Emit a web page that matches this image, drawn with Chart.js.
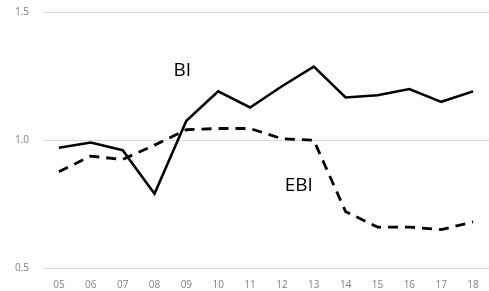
<!DOCTYPE html>
<html>
<head>
<meta charset="utf-8">
<script src="https://cdn.jsdelivr.net/npm/chart.js@4"></script>
<style>
  html, body { margin: 0; padding: 0; background: #fff; }
  #wrap { width: 489px; height: 291px; position: relative; }
</style>
</head>
<body>
<div id="wrap"><canvas id="chart"></canvas></div>
<script>
  // Data
  const years = ['05', '06', '07', '08', '09', '10', '11', '12', '13', '14', '15', '16', '17', '18'];
  const biValues = [0.97, 0.99, 0.96, 0.79, 1.075, 1.19, 1.127, 1.21, 1.287, 1.166, 1.175, 1.199, 1.149, 1.19];
  const ebiValues = [0.876, 0.937, 0.924, 0.98, 1.04, 1.045, 1.045, 1.005, 0.999, 0.72, 0.66, 0.66, 0.65, 0.68];
  const yTicks = [0.5, 1.0, 1.5];

  // Series name labels, placed in data space
  const seriesLabels = [
    { text: 'BI', x: 3.875, y: 1.27 },
    { text: 'EBI', x: 7.53, y: 0.82 },
  ];

  const labelPlugin = {
    id: 'seriesLabels',
    afterDatasetsDraw(chart) {
      const { ctx, scales } = chart;
      ctx.save();
      ctx.font = '19px "Open Sans", "Liberation Sans", sans-serif';
      ctx.fillStyle = '#000';
      ctx.textAlign = 'center';
      ctx.textBaseline = 'middle';
      seriesLabels.forEach(l => {
        ctx.fillText(l.text, scales.x.getPixelForValue(l.x), scales.y.getPixelForValue(l.y));
      });
      ctx.restore();
    },
  };

  new Chart(document.getElementById('chart'), {
    type: 'line',
    data: {
      labels: years,
      datasets: [
        {
          label: 'BI',
          data: biValues,
          borderColor: '#000',
          borderWidth: 2.6,
          pointRadius: 0,
          tension: 0,
        },
        {
          label: 'EBI',
          data: ebiValues,
          borderColor: '#000',
          borderWidth: 2.8,
          borderDash: [10, 7],
          pointRadius: 0,
          tension: 0,
        },
      ],
    },
    options: {
      responsive: true,
      maintainAspectRatio: false,
      animation: false,
      layout: { padding: { top: 12, bottom: -3, left: 0, right: 0 } },
      scales: {
        x: {
          offset: true,
          grid: { display: false },
          border: { display: false },
          ticks: {
            color: '#7f7f7f',
            font: { size: 10, family: '"Open Sans", "Liberation Sans", sans-serif' },
            maxRotation: 0,
            padding: 3,
          },
        },
        y: {
          min: 0.5,
          max: 1.5,
          afterBuildTicks: axis => { axis.ticks = yTicks.map(v => ({ value: v })); },
          afterFit: axis => { axis.width = 43; axis.paddingTop = 0; },
          grid: { color: '#d9d9d9', lineWidth: 1, drawTicks: false },
          border: { display: false },
          ticks: {
            color: '#7f7f7f',
            font: { size: 10, family: '"Open Sans", "Liberation Sans", sans-serif' },
            padding: 14,
            callback: v => Number(v).toFixed(1),
          },
        },
      },
      plugins: {
        legend: { display: false },
        tooltip: { enabled: false },
      },
    },
    plugins: [labelPlugin],
  });
</script>
</body>
</html>
